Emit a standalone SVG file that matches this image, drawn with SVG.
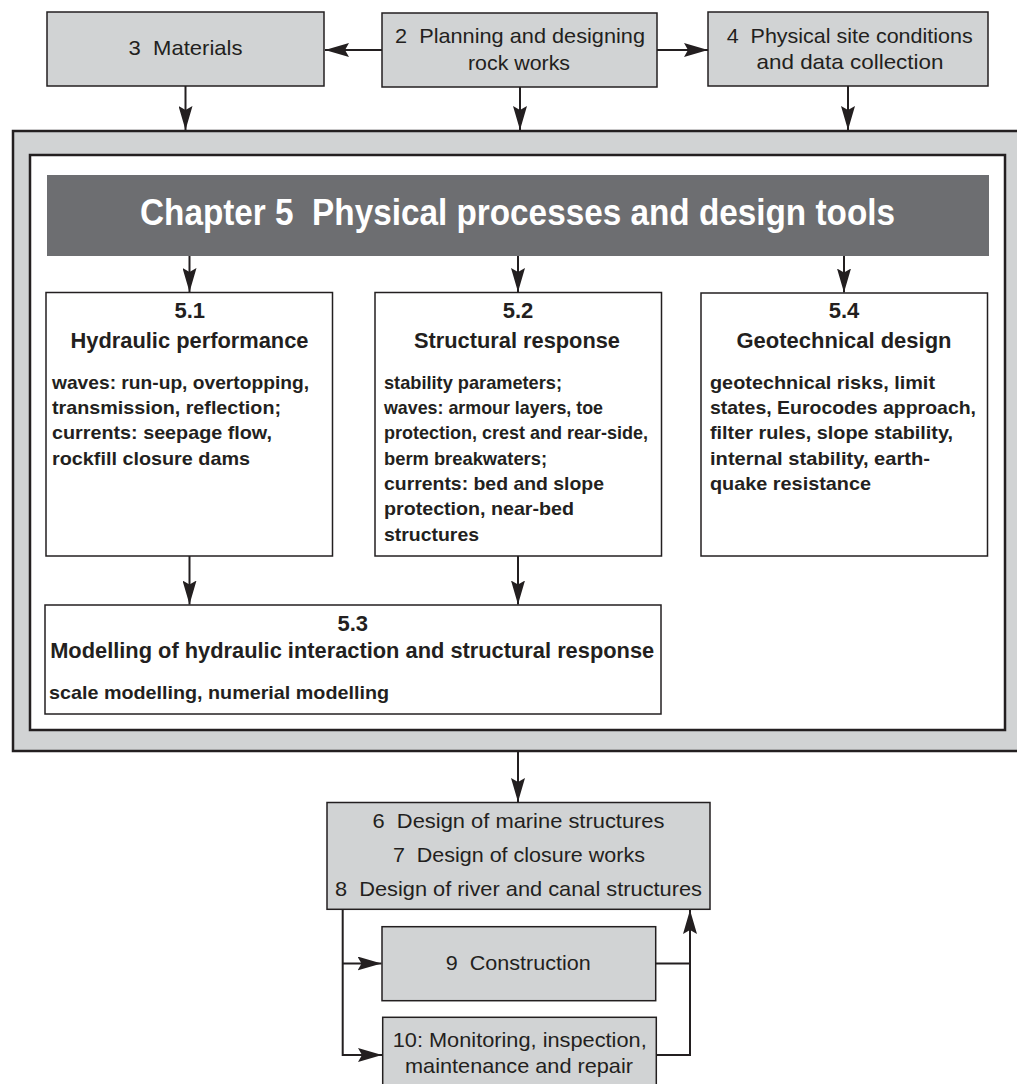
<svg xmlns="http://www.w3.org/2000/svg" width="1017" height="1084" viewBox="0 0 1017 1084">
<style>
  .g{fill:#d1d3d4;stroke:#231f20;stroke-width:1.5}
  .w{fill:#fff;stroke:#231f20;stroke-width:1.5}
  .frame{stroke:#231f20;stroke-width:2.5}
  .t{font-family:"Liberation Sans",Arial,sans-serif;font-size:21px;fill:#231f20;text-anchor:middle}
  .h{font-family:"Liberation Sans",Arial,sans-serif;font-size:22px;font-weight:bold;fill:#231f20;text-anchor:middle}
  .b{font-family:"Liberation Sans",Arial,sans-serif;font-size:19px;font-weight:bold;fill:#231f20}
  .title{font-family:"Liberation Sans",Arial,sans-serif;font-size:36px;font-weight:bold;fill:#fff}
  .c{fill:none;stroke:#231f20;stroke-width:2}
</style>
<defs>
  <marker id="ah" markerUnits="userSpaceOnUse" markerWidth="24" markerHeight="14" refX="24" refY="7" orient="auto">
    <path d="M0,0 L24,7 L0,14 L4,7 Z" fill="#231f20"/>
  </marker>
</defs>

<g id="frame">
  <rect x="13" y="131" width="1010" height="620" fill="#d1d3d4" class="frame"/>
  <rect x="30" y="155" width="975" height="575" fill="#fff" class="frame"/>
</g>

<g id="n3">
  <rect class="g" x="47" y="12" width="277" height="74"/>
  <text class="t" x="185.5" y="55" xml:space="preserve" textLength="114" lengthAdjust="spacingAndGlyphs">3  Materials</text>
</g>
<g id="n2">
  <rect class="g" x="382" y="13" width="275" height="74"/>
  <text class="t" x="520" y="43" xml:space="preserve" textLength="250" lengthAdjust="spacingAndGlyphs">2  Planning and designing</text>
  <text class="t" x="519" y="70" textLength="102" lengthAdjust="spacingAndGlyphs">rock works</text>
</g>
<g id="n4">
  <rect class="g" x="708" y="12" width="280" height="74"/>
  <text class="t" x="849.7" y="43" xml:space="preserve" textLength="246" lengthAdjust="spacingAndGlyphs">4  Physical site conditions</text>
  <text class="t" x="850" y="69" textLength="187" lengthAdjust="spacingAndGlyphs">and data collection</text>
</g>

<g id="n5">
  <rect x="47" y="175" width="942" height="81" fill="#6d6e71"/>
  <text class="title" x="140" y="225" xml:space="preserve" textLength="755" lengthAdjust="spacingAndGlyphs">Chapter 5  Physical processes and design tools</text>
</g>

<g id="n51">
  <rect class="w" x="46" y="292.5" width="286.5" height="263.5"/>
  <text class="h" x="189.7" y="318">5.1</text>
  <text class="h" x="189.5" y="348" textLength="238" lengthAdjust="spacingAndGlyphs">Hydraulic performance</text>
  <text class="b" x="52" y="389" textLength="257" lengthAdjust="spacingAndGlyphs">waves: run-up, overtopping,</text>
  <text class="b" x="52" y="414" textLength="229" lengthAdjust="spacingAndGlyphs">transmission, reflection;</text>
  <text class="b" x="52" y="439" textLength="220" lengthAdjust="spacingAndGlyphs">currents: seepage flow,</text>
  <text class="b" x="52" y="465" textLength="198" lengthAdjust="spacingAndGlyphs">rockfill closure dams</text>
</g>

<g id="n52">
  <rect class="w" x="375" y="292.5" width="286.5" height="263.5"/>
  <text class="h" x="518" y="318">5.2</text>
  <text class="h" x="517" y="348" textLength="206" lengthAdjust="spacingAndGlyphs">Structural response</text>
  <text class="b" x="384" y="389" textLength="178" lengthAdjust="spacingAndGlyphs">stability parameters;</text>
  <text class="b" x="384" y="414" textLength="219" lengthAdjust="spacingAndGlyphs">waves: armour layers, toe</text>
  <text class="b" x="384" y="439" textLength="264" lengthAdjust="spacingAndGlyphs">protection, crest and rear-side,</text>
  <text class="b" x="384" y="465" textLength="163" lengthAdjust="spacingAndGlyphs">berm breakwaters;</text>
  <text class="b" x="384" y="490" textLength="220" lengthAdjust="spacingAndGlyphs">currents: bed and slope</text>
  <text class="b" x="384" y="515" textLength="190" lengthAdjust="spacingAndGlyphs">protection, near-bed</text>
  <text class="b" x="384" y="541" textLength="95" lengthAdjust="spacingAndGlyphs">structures</text>
</g>

<g id="n54">
  <rect class="w" x="701" y="293" width="286.5" height="263"/>
  <text class="h" x="844" y="318">5.4</text>
  <text class="h" x="844" y="348" textLength="215" lengthAdjust="spacingAndGlyphs">Geotechnical design</text>
  <text class="b" x="710" y="389" textLength="225" lengthAdjust="spacingAndGlyphs">geotechnical risks, limit</text>
  <text class="b" x="710" y="414" textLength="266" lengthAdjust="spacingAndGlyphs">states, Eurocodes approach,</text>
  <text class="b" x="710" y="439" textLength="243" lengthAdjust="spacingAndGlyphs">filter rules, slope stability,</text>
  <text class="b" x="710" y="465" textLength="220" lengthAdjust="spacingAndGlyphs">internal stability, earth-</text>
  <text class="b" x="710" y="490" textLength="161" lengthAdjust="spacingAndGlyphs">quake resistance</text>
</g>

<g id="n53">
  <rect class="w" x="45" y="605" width="616" height="109"/>
  <text class="h" x="352.7" y="631">5.3</text>
  <text class="h" x="352.2" y="658" textLength="604" lengthAdjust="spacingAndGlyphs">Modelling of hydraulic interaction and structural response</text>
  <text class="b" x="49" y="699" textLength="340" lengthAdjust="spacingAndGlyphs">scale modelling, numerial modelling</text>
</g>

<g id="n678">
  <rect class="g" x="327" y="802.5" width="383" height="106.8"/>
  <text class="t" x="518.5" y="828" xml:space="preserve" textLength="292" lengthAdjust="spacingAndGlyphs">6  Design of marine structures</text>
  <text class="t" x="518.9" y="862" xml:space="preserve" textLength="252" lengthAdjust="spacingAndGlyphs">7  Design of closure works</text>
  <text class="t" x="518.5" y="896" xml:space="preserve" textLength="367" lengthAdjust="spacingAndGlyphs">8  Design of river and canal structures</text>
</g>

<g id="n9">
  <rect class="g" x="382" y="926.7" width="273.7" height="74"/>
  <text class="t" x="518.3" y="970" xml:space="preserve" textLength="145" lengthAdjust="spacingAndGlyphs">9  Construction</text>
</g>

<g id="n10">
  <rect class="g" x="382.7" y="1017.3" width="273.6" height="80"/>
  <text class="t" x="519.7" y="1046.7" textLength="254" lengthAdjust="spacingAndGlyphs">10: Monitoring, inspection,</text>
  <text class="t" x="519" y="1073.3" textLength="228" lengthAdjust="spacingAndGlyphs">maintenance and repair</text>
</g>

<g id="connectors">
  <line class="c" x1="382" y1="50" x2="325" y2="50" marker-end="url(#ah)"/>
  <line class="c" x1="657" y1="50" x2="708" y2="50" marker-end="url(#ah)"/>
  <line class="c" x1="185.5" y1="86" x2="185.5" y2="130" marker-end="url(#ah)"/>
  <line class="c" x1="520" y1="87" x2="520" y2="130" marker-end="url(#ah)"/>
  <line class="c" x1="848" y1="86" x2="848" y2="130" marker-end="url(#ah)"/>
  <line class="c" x1="189.5" y1="256" x2="189.5" y2="292" marker-end="url(#ah)"/>
  <line class="c" x1="518" y1="256" x2="518" y2="292" marker-end="url(#ah)"/>
  <line class="c" x1="844" y1="256" x2="844" y2="292.5" marker-end="url(#ah)"/>
  <line class="c" x1="189.5" y1="556" x2="189.5" y2="604.5" marker-end="url(#ah)"/>
  <line class="c" x1="518" y1="556" x2="518" y2="604.5" marker-end="url(#ah)"/>
  <line class="c" x1="518" y1="752" x2="518" y2="802" marker-end="url(#ah)"/>
  <path class="c" d="M342.7,909.3 V1055 H382" marker-end="url(#ah)"/>
  <path class="c" d="M342.7,963.5 H381.5" marker-end="url(#ah)"/>
  <path class="c" d="M655.7,963.5 H690"/>
  <path class="c" d="M656.3,1055 H690 V910" marker-end="url(#ah)"/>
</g>
</svg>
